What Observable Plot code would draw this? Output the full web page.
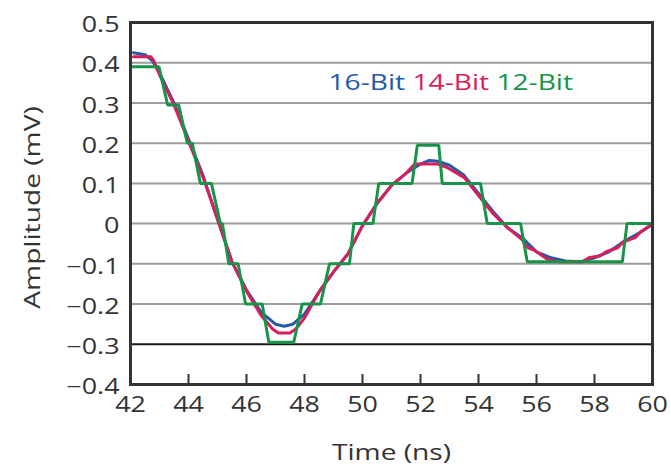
<!DOCTYPE html>
<html>
<head>
<meta charset="utf-8">
<script src="https://cdn.jsdelivr.net/npm/d3@7"></script>
<script src="https://cdn.jsdelivr.net/npm/@observablehq/plot@0.6"></script>
<style>
  html, body { margin: 0; padding: 0; background: #fff; }
  svg { display: block; }
</style>
</head>
<body>
<div id="chart"></div>
<script>
// ---- Data ----
const time16 = [42.1, 42.5, 42.75, 43.0, 43.5, 44.0, 44.5, 45.0, 45.5, 46.0, 46.5, 47.0, 47.3, 47.6, 48.0, 48.5, 49.0, 49.5, 50.0, 50.5, 51.0, 51.5, 52.0, 52.3, 52.6, 53.0, 53.5, 54.0, 54.5, 55.0, 55.5, 56.0, 56.5, 57.0, 57.5, 58.0, 58.5, 59.0, 59.5, 60.0];
const amp16  = [0.425, 0.42, 0.405, 0.375, 0.30, 0.21, 0.12, 0.01, -0.095, -0.165, -0.22, -0.25, -0.255, -0.25, -0.225, -0.17, -0.12, -0.075, -0.005, 0.05, 0.095, 0.125, 0.148, 0.157, 0.155, 0.145, 0.12, 0.075, 0.03, -0.01, -0.035, -0.07, -0.085, -0.093, -0.095, -0.085, -0.07, -0.045, -0.025, -0.002];

const time14 = [42.1, 42.7, 42.8, 43.0, 43.5, 44.0, 44.5, 45.0, 45.5, 46.0, 46.5, 46.9, 47.1, 47.5, 47.7, 48.0, 48.5, 49.0, 49.5, 50.0, 50.5, 51.0, 51.5, 51.8, 52.6, 52.9, 53.5, 54.0, 54.5, 55.0, 55.5, 55.7, 55.9, 56.2, 56.4, 56.8, 57.6, 57.8, 58.2, 58.4, 58.8, 59.0, 59.4, 59.6, 60.0];
const amp14  = [0.415, 0.415, 0.405, 0.37, 0.295, 0.205, 0.115, 0.012, -0.095, -0.168, -0.228, -0.262, -0.272, -0.272, -0.262, -0.235, -0.17, -0.12, -0.075, -0.005, 0.05, 0.095, 0.125, 0.148, 0.148, 0.14, 0.115, 0.07, 0.025, -0.01, -0.04, -0.06, -0.065, -0.08, -0.09, -0.095, -0.095, -0.085, -0.08, -0.07, -0.06, -0.045, -0.035, -0.02, 0.0];

const time12 = [42.0, 42.98, 43.28, 43.66, 43.96, 44.13, 44.41, 44.79, 45.10, 45.17, 45.39, 45.71, 45.97, 46.54, 46.77, 47.63, 47.92, 48.55, 48.86, 49.55, 49.70, 50.36, 50.56, 51.71, 51.89, 52.63, 52.75, 54.07, 54.30, 55.45, 55.68, 58.96, 59.12, 60.0];
const amp12  = [0.39, 0.39, 0.295, 0.295, 0.2, 0.2, 0.1, 0.1, 0, 0, -0.1, -0.1, -0.2, -0.2, -0.295, -0.295, -0.2, -0.2, -0.1, -0.1, 0, 0, 0.1, 0.1, 0.195, 0.195, 0.1, 0.1, 0, 0, -0.095, -0.095, 0, 0];

const seriesLabels = ["16-Bit", "14-Bit", "12-Bit"];
const seriesColors = ["#2459a8", "#d81e5b", "#179447"];
const xTicks = [42, 44, 46, 48, 50, 52, 54, 56, 58, 60];
const innerXTicks = [44, 46, 48, 50, 52, 54, 56, 58];
const yTicks = [-0.4, -0.3, -0.2, -0.1, 0, 0.1, 0.2, 0.3, 0.4, 0.5];
const grayGrid = [-0.2, -0.1, 0, 0.1, 0.2, 0.3, 0.4];
const darkGrid = [-0.3];
const xTitle = "Time (ns)";
const yTitle = "Amplitude (mV)";

const toRows = (ts, vs) => ts.map((t, i) => ({t, v: vs[i]}));
const data16 = toRows(time16, amp16);
const data14 = toRows(time14, amp14);
const data12 = toRows(time12, amp12);
const legendString = seriesLabels.join(" ");
const fmtY = d => Math.abs(d) < 1e-9 ? "0" : d3.format(".1f")(d);

const svg = Plot.plot({
  width: 671,
  height: 468,
  marginTop: 22,
  marginRight: 19,
  marginBottom: 84,
  marginLeft: 130,
  style: {fontFamily: "'Open Sans', sans-serif", fontSize: "21px", color: "#333", background: "#fff"},
  x: {domain: [42, 60]},
  y: {domain: [-0.4, 0.5]},
  marks: [
    Plot.ruleY(grayGrid, {y: d => d, stroke: "#9c9c9c", strokeWidth: 2}),
    Plot.ruleY(darkGrid, {y: d => d, stroke: "#1a1a1a", strokeWidth: 2}),
    Plot.line(data16, {x: "t", y: "v", stroke: seriesColors[0], strokeWidth: 3}),
    Plot.line(data14, {x: "t", y: "v", stroke: seriesColors[1], strokeWidth: 3}),
    Plot.line(data12, {x: "t", y: "v", stroke: seriesColors[2], strokeWidth: 3, strokeLinejoin: "miter"}),
    Plot.tickX(innerXTicks, {x: d => d, stroke: "#333", strokeWidth: 2, insetTop: 352}),
    Plot.frame({stroke: "#333", strokeWidth: 3}),
    Plot.axisX({ticks: xTicks, tickSize: 0, tickPadding: 13, label: null}),
    Plot.axisY({ticks: yTicks, tickSize: 0, tickPadding: 11, dy: 3, label: null, tickFormat: fmtY}),
    Plot.text([xTitle], {text: d => d, frameAnchor: "bottom", textAnchor: "middle", lineAnchor: "middle", dy: 68, fontSize: 22}),
    Plot.text([yTitle], {text: d => d, frameAnchor: "left", textAnchor: "middle", lineAnchor: "middle", dx: -98, dy: 4, rotate: -90, fontSize: 22}),
    Plot.text([legendString], {text: d => d, frameAnchor: "top-left", textAnchor: "start", lineAnchor: "middle", dx: 198, dy: 60, fontSize: 22})
  ]
});

document.getElementById("chart").appendChild(svg);

// colour the legend words
svg.querySelectorAll("text").forEach(t => {
  if (t.textContent === legendString) {
    while (t.firstChild) t.removeChild(t.firstChild);
    seriesLabels.forEach((lab, i) => {
      const ts = document.createElementNS("http://www.w3.org/2000/svg", "tspan");
      ts.setAttribute("fill", seriesColors[i]);
      ts.style.fill = seriesColors[i];
      ts.textContent = (i ? " " : "") + lab;
      t.appendChild(ts);
    });
  }
});

// widen glyphs horizontally to match the reference lettering
svg.querySelectorAll("text").forEach(t => {
  const w = t.getComputedTextLength();
  if (w > 0) {
    t.setAttribute("textLength", (w * 1.28).toFixed(1));
    t.setAttribute("lengthAdjust", "spacingAndGlyphs");
  }
});
</script>
</body>
</html>
